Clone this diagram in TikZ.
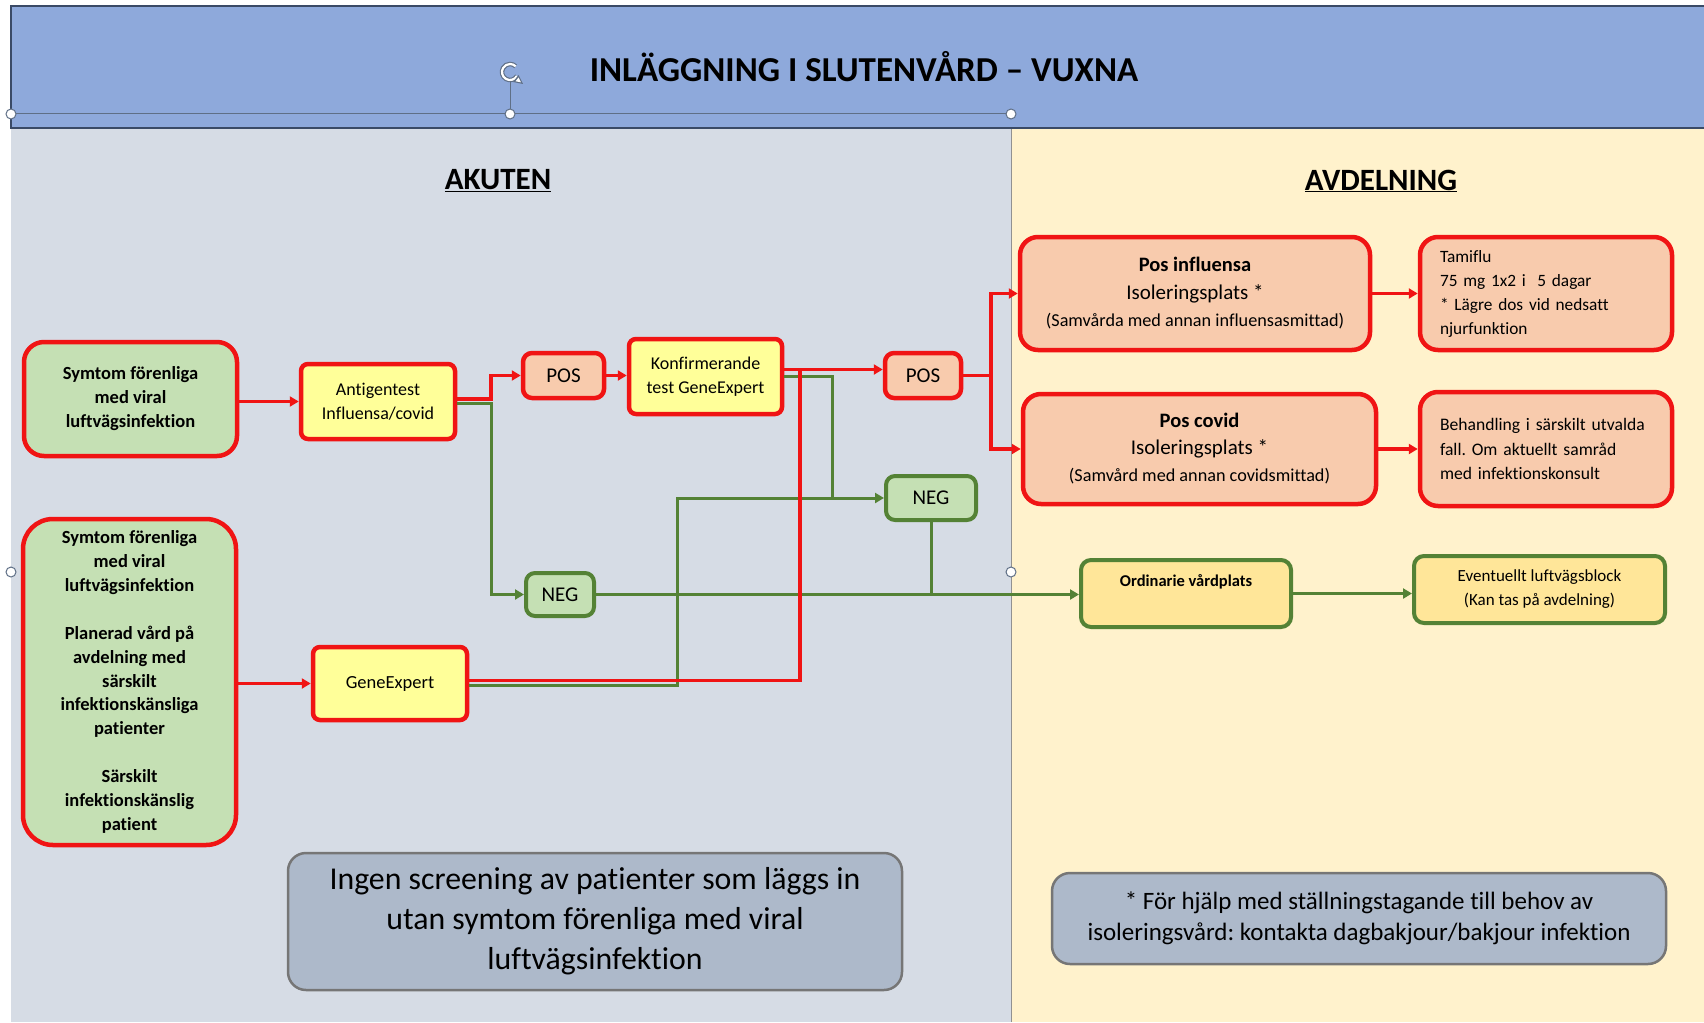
\documentclass[tikz,border=0pt]{standalone}
\usepackage{fontspec}
\setmainfont{Carlito}[Ligatures=NoCommon]
\usetikzlibrary{arrows.meta,calc}
\definecolor{cred}{HTML}{F01414}
\definecolor{cgreen}{HTML}{548235}
\definecolor{gfill}{HTML}{C5E0B4}
\definecolor{yfill}{HTML}{FFFF99}
\definecolor{sfill}{HTML}{F8CBAD}
\definecolor{ofill}{HTML}{FFE699}
\definecolor{grfill}{HTML}{ADB9CA}
\definecolor{grline}{HTML}{767676}
\definecolor{lbg}{HTML}{D6DCE5}
\definecolor{rbg}{HTML}{FFF2CC}
\definecolor{bandc}{HTML}{8EA9DB}
\definecolor{bandline}{HTML}{3A4A66}
\definecolor{hline}{HTML}{5F6F86}
\newcommand\fsz[2]{\fontsize{#1}{#2}\selectfont}
\tikzset{
 rbox/.style={draw=cred, line width=4.5pt, align=center, inner sep=0pt},
 gbox/.style={draw=cgreen, line width=4pt, align=center, inner sep=0pt},
 nbox/.style={draw=grline, line width=2.5pt, fill=grfill, rounded corners=18pt, align=center, inner sep=0pt},
 rline/.style={draw=cred, line width=3.5pt},
 gline/.style={draw=cgreen, line width=3pt},
 rarrow/.style={rline, -{Triangle[length=9pt,width=10pt]}},
 garrow/.style={gline, -{Triangle[length=9pt,width=10pt]}},
 handle/.style={circle, draw=hline, fill=white, line width=1pt, minimum size=10pt, inner sep=0pt},
 head/.style={font=\fsz{31}{36}\bfseries},
}
\begin{document}
\frenchspacing
\begin{tikzpicture}[x=1pt,y=-1pt]
\useasboundingbox (0,0) rectangle (1704,1022);
% backgrounds
\fill[white] (0,0) rectangle (1704,1022);
\fill[lbg] (11,128) rectangle (1011,1022);
\fill[rbg] (1011,128) rectangle (1704,1022);
\draw[grline!80, line width=1pt] (1011,128) -- (1011,1022);
\filldraw[fill=bandc, draw=bandline, line width=1.5pt] (11,6) rectangle (1712,128);
\node[font=\fsz{35}{40}\bfseries] (title) at (864,67) {INLÄGGNING I SLUTENVÅRD – VUXNA};
% selection handles
\draw[hline, line width=1pt] (11,114) -- (1011,114);
\draw[hline, line width=1pt] (510,114) -- (510,82);
\draw[hline, line width=4.5pt] (510,72) ++(-30:8pt) arc[start angle=330, end angle=45, radius=8pt];
\draw[white, line width=2.2pt] (510,72) ++(-30:8pt) arc[start angle=330, end angle=45, radius=8pt];
\fill[hline] (518.5,75) -- (523,84) -- (513,82) -- cycle;
\fill[white] (518.5,77.5) -- (521,82.3) -- (515.5,81.3) -- cycle;
\node[handle] (h1) at (11,114) {};
\node[handle] (h2) at (510,114) {};
\node[handle] (h3) at (1011,114) {};
\node[handle] (h4) at (1011,572) {};
\node[handle] (h5) at (11,572) {};
% headings
\node[head] (akuten) at (498,181) {\underline{AKUTEN}};
\node[head] (avd) at (1381,181) {\underline{AVDELNING}};
% nodes
\node[rbox, fill=gfill, rounded corners=20pt, minimum width=213pt, minimum height=114pt, font=\fsz{18.5}{24}\bfseries] (s1) at (130.5,399) {Symtom förenliga\\med viral\\luftvägsinfektion};
\node[rbox, fill=yfill, rounded corners=7pt, minimum width=154pt, minimum height=75pt, font=\fsz{18}{24}] (ag) at (378,401.5) {Antigentest\\Influensa/covid};
\node[rbox, fill=sfill, rounded corners=9pt, minimum width=81pt, minimum height=45pt, font=\fsz{21}{24}] (p1) at (563.5,375.5) {POS};
\node[rbox, fill=yfill, rounded corners=7pt, minimum width=153pt, minimum height=75pt, font=\fsz{18}{24}] (k) at (705.5,376.5) {Konfirmerande\\test GeneExpert};
\node[rbox, fill=sfill, rounded corners=9pt, minimum width=76pt, minimum height=45pt, font=\fsz{21}{24}] (p2) at (923,375.5) {POS};
\node[gbox, fill=gfill, rounded corners=9pt, minimum width=90pt, minimum height=44pt, font=\fsz{21}{24}] (n2) at (931,498) {NEG};
\node[gbox, fill=gfill, rounded corners=9pt, minimum width=68pt, minimum height=43pt, font=\fsz{21}{24}] (n1) at (560,594.5) {NEG};
\node[rbox, fill=gfill, rounded corners=30pt, minimum width=213pt, minimum height=326pt, font=\fsz{18.5}{23.9}\bfseries] (s2) at (129.5,682) {Symtom förenliga\\med viral\\luftvägsinfektion\\[23.9pt]Planerad vård på\\avdelning med\\särskilt\\infektionskänsliga\\patienter\\[23.9pt]Särskilt\\infektionskänslig\\patient};
\node[rbox, fill=yfill, rounded corners=7pt, minimum width=154pt, minimum height=73pt, font=\fsz{18.5}{24}] (ge) at (390,683.5) {GeneExpert};
\node[rbox, fill=sfill, rounded corners=18pt, minimum width=350pt, minimum height=113pt, font=\fsz{20.5}{27.5}] (pi) at (1195,293.5) {{\bfseries Pos influensa}\\{\fsz{21}{27.5}Isoleringsplats *}\\{\fsz{18.2}{27.5}(Samvårda med annan influensasmittad)}};
\node[rbox, fill=sfill, rounded corners=18pt, minimum width=252pt, minimum height=113pt, text width=212pt, align=left, font=\fsz{17.3}{24}] (tam) at (1546,293.5) {Tamiflu\\75 mg 1x2 i~ 5 dagar\\{}* Lägre dos vid nedsatt\\njurfunktion};
\node[rbox, fill=sfill, rounded corners=18pt, minimum width=353pt, minimum height=110pt, font=\fsz{20.5}{27}] (pc) at (1199.5,449) {{\bfseries Pos covid}\\{\fsz{21}{27}Isoleringsplats *}\\{\fsz{18.2}{27}(Samvård med annan covidsmittad)}};
\node[rbox, fill=sfill, rounded corners=18pt, minimum width=252pt, minimum height=114pt, text width=212pt, align=left, font=\fsz{17.6}{24.5}] (beh) at (1546,449) {Behandling i särskilt utvalda\\fall. Om aktuellt samråd\\med infektionskonsult};
\node[gbox, fill=ofill, rounded corners=10pt, minimum width=210pt, minimum height=67pt, font=\fsz{16.5}{25}\bfseries] (ord) at (1186,593.5) {Ordinarie vårdplats\\\mbox{}};
\node[gbox, fill=ofill, rounded corners=10pt, minimum width=251pt, minimum height=67pt, font=\fsz{17}{24}] (ev) at (1539.5,589.5) {Eventuellt luftvägsblock\\(Kan tas på avdelning)};
\node[nbox, minimum width=614pt, minimum height=137pt, font=\fsz{31.8}{40}] (ingen) at (595,921.5) {Ingen screening av patienter som läggs in\\utan symtom förenliga med viral\\luftvägsinfektion};
\node[nbox, minimum width=614pt, minimum height=91pt, font=\fsz{25}{31.5}] (fn) at (1359,918.5) {* För hjälp med ställningstagande till behov av\\isoleringsvård: kontakta dagbakjour/bakjour infektion};
% junction coordinates
\coordinate (j1) at (491,0);
\coordinate (rY) at (0,369.5);
\coordinate (j2) at (800,0);
\coordinate (j3) at (832.5,0);
\coordinate (j4) at (677,0);
\coordinate (j5) at (991,0);
% green connectors
\draw[garrow] ([yshift=-2pt]ag.east) -| (j1|-n1.west) -- (n1.west);
\draw[garrow] (n1.east) -- (ord.west|-n1.east);
\draw[gline] (n2.south) -- (n2.south|-n1.east);
\draw[gline] ([yshift=-1.5pt]ge.east) -| (j4|-n2.west) -- (j3|-n2.west);
\draw[garrow] (k.east) -| (j3|-n2.west) -- (n2.west);
\draw[garrow] (ord.east) -- (ev.west|-ord.east);
% red connectors
\draw[rarrow] (s1.east|-ag.west) -- (ag.west);
\draw[rarrow] ([yshift=2.5pt]ag.east) -| (j1|-p1.west) -- (p1.west);
\draw[rarrow] (p1.east) -- (k.west|-p1.east);
\draw[rarrow] (k.east|-rY) -- (p2.west|-rY);
\draw[rline] ([yshift=3pt]ge.east) -| (j2|-rY);
\draw[rarrow] (p2.east) -| (j5|-pi.west) -- (pi.west);
\draw[rarrow] (p2.east) -| (j5|-pc.west) -- (pc.west);
\draw[rarrow] (pi.east) -- (tam.west|-pi.east);
\draw[rarrow] (pc.east) -- (beh.west|-pc.east);
\draw[rarrow] (s2.east|-ge.west) -- (ge.west);
\end{tikzpicture}
\end{document}
